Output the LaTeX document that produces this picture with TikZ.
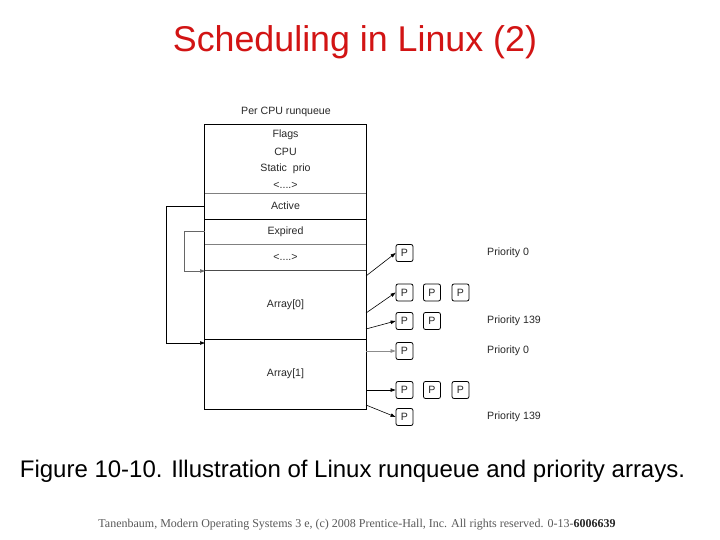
\documentclass[tikz,border=0pt]{standalone}
\usepackage{fontspec}
\setmainfont{Liberation Sans}
\newfontfamily\footfont{Liberation Serif}
\usetikzlibrary{arrows.meta}
\definecolor{titlered}{RGB}{210,20,20}
\definecolor{txt}{RGB}{40,40,40}
\begin{document}
\begin{tikzpicture}[x=1pt,y=-1pt,
  small/.style={font=\fontsize{10.6}{12}\selectfont, text=txt},
  cell/.style={minimum width=161pt, inner sep=0pt, small},
  txtn/.style={inner sep=0pt, small},
  pbox/.style={draw, rounded corners=2pt, minimum width=17pt, minimum height=17pt, inner sep=0pt, small, line width=0.8pt},
  lab/.style={anchor=west, inner sep=0pt, small},
  arr/.style={-{Triangle[length=5pt,width=3.5pt]}, line width=0.6pt},
  sep/.style={line width=0.6pt, gray},
  sepdark/.style={line width=0.8pt, black},
]
\useasboundingbox[fill=white] (0,0) rectangle (720,540);

% title
\node[text=titlered, font=\fontsize{35.8}{40}\selectfont, inner sep=0pt] (title) at (355,42) {Scheduling in Linux (2)};

% runqueue cells
\node[txtn] (rqlabel) at (286,112) {Per CPU runqueue};
\node[cell, minimum height=68pt] (hdr) at (285.5,159) {};
\node[cell, minimum height=26pt] (active) at (285.5,206) {Active};
\node[cell, minimum height=25pt] (expired) at (285.5,231.5) {Expired};
\node[cell, minimum height=26pt] (dots) at (285.5,257) {<....>};
\node[cell, minimum height=69pt] (arr0) at (285.5,304.5) {Array[0]};
\node[cell, minimum height=70pt] (arr1) at (285.5,374) {Array[1]};
\node[txtn] (flags) at (285.5,135) {Flags};
\node[txtn] (cpu) at (285.5,152) {CPU};
\node[txtn] (sprio) at (285.5,169) {Static\ \ prio};
\node[txtn] (hdots) at (285.5,185) {<....>};

\draw[line width=1.2pt] (hdr.north west) rectangle (arr1.south east);
\draw[sep] (hdr.south west) -- (hdr.south east);
\draw[sepdark] (active.south west) -- (active.south east);
\draw[sep] (expired.south west) -- (expired.south east);
\draw[line width=1pt, black!70] (dots.south west) -- (dots.south east);
\draw[sepdark] (arr0.south west) -- (arr0.south east);

% P boxes
\node[pbox] (p1)  at (404.5,253) {P};
\node[pbox] (p2a) at (404.5,292.5) {P};
\node[pbox] (p2b) at (432,292.5) {P};
\node[pbox] (p2c) at (460.5,292.5) {P};
\node[pbox] (p3a) at (404.5,321) {P};
\node[pbox] (p3b) at (432,321) {P};
\node[pbox] (p4)  at (404.5,351) {P};
\node[pbox] (p5a) at (404.5,390) {P};
\node[pbox] (p5b) at (432,390) {P};
\node[pbox] (p5c) at (460.5,390) {P};
\node[pbox] (p6)  at (404.5,417) {P};

% priority labels
\node[lab] (l1) at (487,253) {Priority 0};
\node[lab] (l2) at (487,321) {Priority 139};
\node[lab] (l3) at (487,351) {Priority 0};
\node[lab] (l4) at (487,417) {Priority 139};

% arrow start points on box edge
\coordinate (s1) at (366,276);
\coordinate (s2) at (366,313);
\coordinate (s3) at (366,329);
\coordinate (s4) at (366,351);
\coordinate (s5) at (366,390);
\coordinate (s6) at (366,405);
\draw[arr] (s1) -- (p1.west);
\draw[arr] (s2) -- (p2a.west);
\draw[arr] (s3) -- (p3a.west);
\draw[arr, black!45] (s4) -- (p4.west);
\draw[arr] (s5) -- (p5a.west);
\draw[arr] (s6) -- (p6.west);

% left connectors
\coordinate (a0) at (205,271);
\coordinate (a1) at (205,343);
\draw[arr] (active.west) -- ++(-39,0) |- (a1);
\draw[arr, black!60] (expired.west) -- ++(-21,0) |- (a0);

% caption
\node[inner sep=0pt, font=\fontsize{24}{28}\selectfont] (caption) at (352.5,471) {Figure 10-10. Illustration of Linux runqueue and priority arrays.};

% footer
\node[inner sep=0pt, font=\footfont\fontsize{12}{14}\selectfont, text=black!65] (footer) at (357,525) {Tanenbaum, Modern Operating Systems 3 e, (c) 2008 Prentice-Hall, Inc. All rights reserved. 0-13-\textcolor{black!85}{\textbf{6006639}}};
\end{tikzpicture}
\end{document}
